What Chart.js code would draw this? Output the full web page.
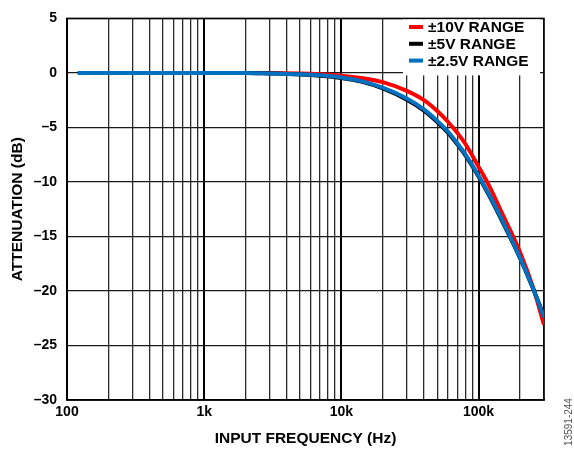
<!DOCTYPE html>
<html>
<head>
<meta charset="utf-8">
<script src="https://cdn.jsdelivr.net/npm/chart.js@4/dist/chart.umd.min.js"></script>
<style>
  html, body { margin: 0; padding: 0; background: #fff; }
  #wrap { width: 574px; height: 454px; position: relative; }
</style>
</head>
<body>
<div id="wrap"><canvas id="chart"></canvas></div>
<script>
// input frequency (Hz)
const FREQ = [120, 200, 500, 1000, 2000, 3000, 5000, 7000, 10000, 14000, 20000, 30000,
  40000, 50000, 60000, 70000, 80000, 100000, 120000, 150000, 200000, 250000, 300000];
// attenuation (dB)
const RANGE_10V = [0, 0, 0, 0, 0, 0, -0.05, -0.12, -0.25, -0.47, -0.85, -1.65,
  -2.5, -3.5, -4.5, -5.5, -6.5, -8.6, -10.4, -13.0, -16.4, -19.7, -23.1];
const RANGE_5V = [0, 0, 0, 0, 0, -0.05, -0.14, -0.25, -0.46, -0.8, -1.42, -2.45,
  -3.45, -4.5, -5.5, -6.55, -7.55, -9.5, -11.3, -13.7, -16.95, -19.8, -22.3];
const RANGE_2V5 = [0, 0, 0, 0, 0, -0.05, -0.12, -0.22, -0.42, -0.75, -1.35, -2.35,
  -3.35, -4.4, -5.4, -6.45, -7.45, -9.4, -11.2, -13.6, -16.9, -19.8, -22.4];

const SERIES_LABELS = ["±10V RANGE", "±5V RANGE", "±2.5V RANGE"];
const SERIES_COLORS = ["#ff0000", "#000000", "#0070c0"];

// vertical grid positions and decade labels
const X_GRID = [100, 200, 300, 400, 500, 600, 700, 800, 900,
  1000, 2000, 3000, 4000, 5000, 6000, 7000, 8000, 9000,
  10000, 20000, 30000, 40000, 50000, 60000, 70000, 80000, 90000,
  100000, 200000, 300000];
const X_MAJOR = [100, 1000, 10000, 100000];
const X_MAJOR_LABELS = ["100", "1k", "10k", "100k"];
const Y_TICKS = [5, 0, -5, -10, -15, -20, -25, -30];

const FONT = "'Liberation Sans', Arial, sans-serif";

const toPoints = (ys) => FREQ.map((f, i) => ({ x: f, y: ys[i] }));

const frame = {
  id: "frame",
  beforeDatasetsDraw(chart) {
    const { ctx, chartArea: a } = chart;
    ctx.save();
    ctx.strokeStyle = "#000";
    ctx.lineWidth = 1.5;
    ctx.strokeRect(a.left, a.top, a.right - a.left, a.bottom - a.top);
    ctx.restore();
  },
};

const boxLegend = {
  id: "boxLegend",
  afterDatasetsDraw(chart) {
    const { ctx, chartArea: a } = chart;
    ctx.save();
    ctx.fillStyle = "#fff";
    ctx.fillRect(403, a.top + 1, a.right - 4 - 403, 56);
    ctx.font = `bold 15.5px ${FONT}`;
    ctx.textBaseline = "middle";
    chart.data.datasets.forEach((ds, i) => {
      const y = 27 + i * 16.8;
      ctx.strokeStyle = ds.borderColor;
      ctx.lineWidth = 4;
      ctx.beginPath();
      ctx.moveTo(409, y);
      ctx.lineTo(423, y);
      ctx.stroke();
      ctx.fillStyle = "#000";
      ctx.fillText(ds.label, 428, y + 1);
    });
    ctx.restore();
  },
};

const figNumber = {
  id: "figNumber",
  afterDraw(chart) {
    const { ctx } = chart;
    ctx.save();
    ctx.translate(569, 422);
    ctx.rotate(-Math.PI / 2);
    ctx.font = `10px ${FONT}`;
    ctx.fillStyle = "#555";
    ctx.textAlign = "center";
    ctx.textBaseline = "middle";
    ctx.fillText("13591-244", 0, 0);
    ctx.restore();
  },
};

new Chart(document.getElementById("chart"), {
  type: "line",
  data: {
    datasets: [RANGE_10V, RANGE_5V, RANGE_2V5].map((ys, i) => ({
      label: SERIES_LABELS[i],
      data: toPoints(ys),
      borderColor: SERIES_COLORS[i],
      borderWidth: 4,
      pointRadius: 0,
      cubicInterpolationMode: "monotone",
      order: 3 - i,
    })),
  },
  options: {
    responsive: true,
    maintainAspectRatio: false,
    animation: false,
    layout: { padding: { left: 0, right: 30, top: 15, bottom: 6 } },
    plugins: {
      legend: { display: false },
      tooltip: { enabled: false },
    },
    scales: {
      x: {
        type: "logarithmic",
        min: 100,
        max: 300000,
        afterBuildTicks: (s) => {
          s.ticks = X_GRID.map((v) => ({ value: v, major: X_MAJOR.includes(v) }));
        },
        afterFit: (s) => { s.height = 48; },
        ticks: {
          autoSkip: false,
          maxRotation: 0,
          padding: 4,
          color: "#000",
          font: { family: FONT, size: 14, weight: "bold" },
          callback: (v) => {
            const i = X_MAJOR.indexOf(v);
            return i >= 0 ? X_MAJOR_LABELS[i] : "";
          },
        },
        grid: {
          drawTicks: false,
          color: (c) => (c.tick && X_MAJOR.includes(c.tick.value) ? "#000" : "#2a2a2a"),
          lineWidth: (c) => (c.tick && X_MAJOR.includes(c.tick.value) ? 2 : 1.3),
        },
        border: { color: "#000", width: 1.5 },
        title: {
          display: true,
          text: "INPUT FREQUENCY (Hz)",
          color: "#000",
          font: { family: FONT, size: 15.5, weight: "bold" },
          padding: { top: 4, bottom: 0 },
        },
      },
      y: {
        min: -30,
        max: 5,
        afterBuildTicks: (s) => {
          s.ticks = Y_TICKS.map((v) => ({ value: v }));
        },
        afterFit: (s) => { s.width = 67; },
        ticks: {
          padding: 10,
          color: "#000",
          font: { family: FONT, size: 14, weight: "bold" },
          callback: (v) => (v < 0 ? "–" + -v : String(v)),
        },
        grid: { drawTicks: false, color: "#1a1a1a", lineWidth: 1.2 },
        border: { color: "#000", width: 1.5 },
        title: {
          display: true,
          text: "ATTENUATION (dB)",
          color: "#000",
          font: { family: FONT, size: 15.5, weight: "bold" },
          padding: { top: 8, bottom: 0 },
        },
      },
    },
  },
  plugins: [frame, boxLegend, figNumber],
});
</script>
</body>
</html>
